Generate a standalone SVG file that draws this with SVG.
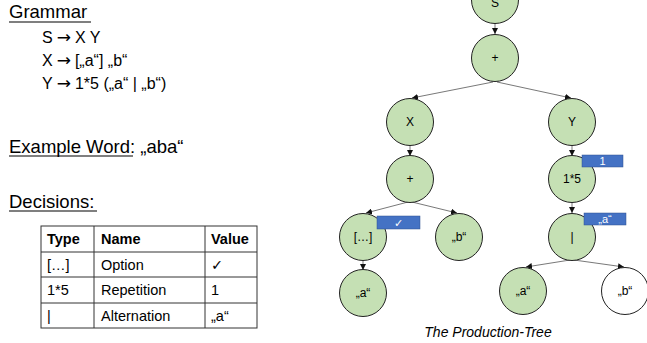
<svg xmlns="http://www.w3.org/2000/svg" width="647" height="343" viewBox="0 0 647 343">
<style>
.t{font-family:"Liberation Sans",Arial,sans-serif;fill:#000}
.h{font-size:18.5px}
.g{font-size:16px}
.ar{font-family:"DejaVu Sans",sans-serif;font-size:17px}
.tb{font-size:14.5px}
.b{font-weight:bold}
.ul{stroke:#000;stroke-width:1.2}
.grid{stroke:#333;stroke-width:1;fill:none}
.n circle{fill:#c5e0b4;stroke:#222;stroke-width:1}
.n circle.w{fill:#fff}
.n text{font-family:"Liberation Sans",Arial,sans-serif;font-size:12px;text-anchor:middle;fill:#000}
.bd rect{fill:#4472c4;stroke:#2f528f;stroke-width:0.5}
.bd text{font-family:"Liberation Sans","DejaVu Sans",sans-serif;font-size:11px;text-anchor:middle;fill:#fff}
.e line{stroke:#555;stroke-width:0.8;marker-end:url(#ah)}
</style>
<defs>
<marker id="ah" viewBox="0 0 8 8" refX="8" refY="4" markerWidth="6" markerHeight="6" markerUnits="userSpaceOnUse" orient="auto">
<path d="M0,0 L8,4 L0,8 z" fill="#111"/>
</marker>
</defs>
<rect width="647" height="343" fill="#fff"/>
<g id="left">
<text class="t h" x="9" y="18">Grammar</text>
<line class="ul" x1="9" y1="22" x2="91" y2="22"/>
<text class="t g" x="42" y="43">S<tspan class="ar" dx="4">→</tspan><tspan dx="4">X Y</tspan></text>
<text class="t g" x="42" y="66">X<tspan class="ar" dx="4">→</tspan><tspan dx="4">[„a“] „b“</tspan></text>
<text class="t g" x="42" y="89">Y<tspan class="ar" dx="4">→</tspan><tspan dx="4">1*5 („a“ | „b“)</tspan></text>
<text class="t h" x="9" y="153">Example Word<tspan>: „aba“</tspan></text>
<line class="ul" x1="9" y1="156" x2="133" y2="156"/>
<text class="t h" x="9" y="208">Decisions:</text>
<line class="ul" x1="9" y1="211" x2="97" y2="211"/>
</g>
<g id="table">
<rect class="grid" x="41" y="226" width="216" height="102"/>
<line class="grid" x1="94" y1="226" x2="94" y2="328"/>
<line class="grid" x1="205" y1="226" x2="205" y2="328"/>
<line class="grid" x1="41" y1="252" x2="257" y2="252"/>
<line class="grid" x1="41" y1="277" x2="257" y2="277"/>
<line class="grid" x1="41" y1="303" x2="257" y2="303"/>
<text class="t tb b" x="47" y="244">Type</text>
<text class="t tb b" x="101" y="244">Name</text>
<text class="t tb b" x="211" y="244">Value</text>
<text class="t tb" x="47" y="270">[…]</text>
<text class="t tb" x="101" y="270">Option</text>
<text class="t tb" x="211" y="270" style="font-family:'DejaVu Sans',sans-serif">✓</text>
<text class="t tb" x="47" y="295">1*5</text>
<text class="t tb" x="101" y="295">Repetition</text>
<text class="t tb" x="211" y="295">1</text>
<text class="t tb" x="47" y="321">|</text>
<text class="t tb" x="101" y="321">Alternation</text>
<text class="t tb" x="211" y="321">„a“</text>
</g>
<g id="edges" class="e">
<line x1="495" y1="23" x2="495" y2="34"/>
<line x1="493" y1="82" x2="412" y2="98"/>
<line x1="497" y1="82" x2="571" y2="98"/>
<line x1="410" y1="146" x2="410" y2="156"/>
<line x1="572" y1="146" x2="572" y2="156"/>
<line x1="408" y1="202" x2="366" y2="213"/>
<line x1="412" y1="202" x2="457" y2="213"/>
<line x1="572" y1="202" x2="572" y2="213"/>
<line x1="363" y1="260" x2="363" y2="270"/>
<line x1="570" y1="260" x2="526" y2="267"/>
<line x1="574" y1="260" x2="624" y2="267"/>
</g>
<g id="nS" class="n"><circle cx="495" cy="0" r="23.5"/><text x="495" y="7">S</text></g>
<g id="nPlus1" class="n"><circle cx="495" cy="58" r="23.5"/><text x="495" y="62">+</text></g>
<g id="nX" class="n"><circle cx="410" cy="122" r="23.5"/><text x="410" y="126">X</text></g>
<g id="nY" class="n"><circle cx="572" cy="122" r="23.5"/><text x="572" y="126">Y</text></g>
<g id="nPlus2" class="n"><circle cx="410" cy="179" r="23.5"/><text x="410" y="183">+</text></g>
<g id="nRep" class="n"><circle cx="572" cy="179" r="23.5"/><text x="572" y="183">1*5</text></g>
<g id="nOpt" class="n"><circle cx="363" cy="237" r="23.5"/><text x="363" y="241">[…]</text></g>
<g id="nB1" class="n"><circle cx="459" cy="237" r="23.5"/><text x="459" y="241">„b“</text></g>
<g id="nAlt" class="n"><circle cx="572" cy="237" r="23.5"/><text x="572" y="241">|</text></g>
<g id="nA1" class="n"><circle cx="363" cy="293" r="23.5"/><text x="363" y="297">„a“</text></g>
<g id="nA2" class="n"><circle cx="523" cy="291" r="23.5"/><text x="523" y="295">„a“</text></g>
<g id="nB2" class="n"><circle class="w" cx="625" cy="291" r="23.5"/><text x="625" y="295">„b“</text></g>
<g id="badgeOpt" class="bd"><rect x="377" y="216" width="43" height="13"/><text x="398.5" y="227">✓</text></g>
<g id="badgeRep" class="bd"><rect x="582" y="155" width="41" height="12"/><text x="602.5" y="165">1</text></g>
<g id="badgeAlt" class="bd"><rect x="584" y="213" width="42" height="12"/><text x="605" y="223">„a“</text></g>
<text id="caption" x="488" y="337" text-anchor="middle" style="font-family:'Liberation Sans',Arial,sans-serif;font-size:14px;font-style:italic">The Production-Tree</text>
</svg>
